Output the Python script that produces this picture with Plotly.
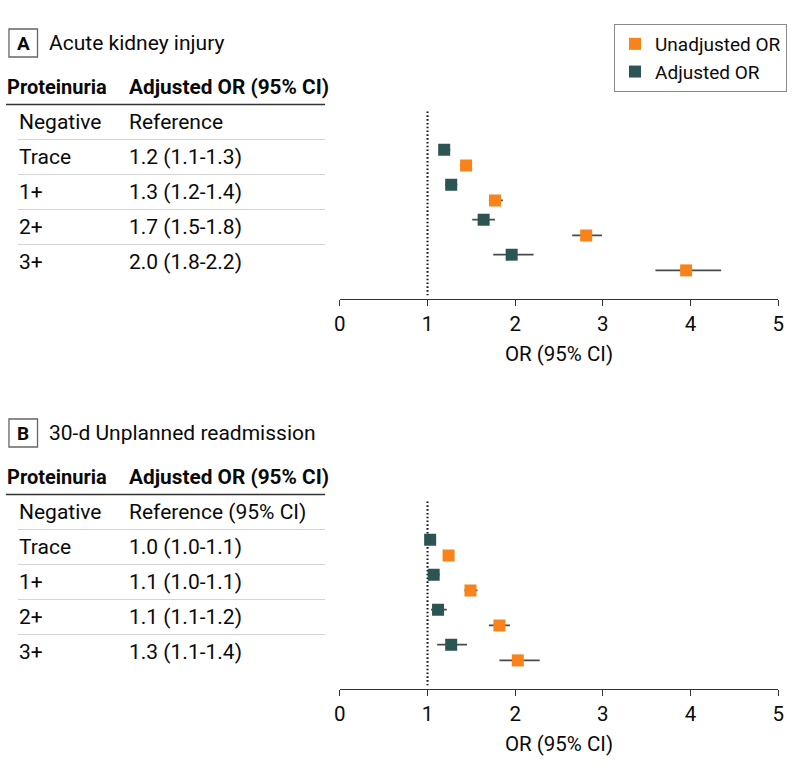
import plotly.graph_objects as go

W, H = 794, 780

# ---------------- data ----------------
categories = ["Negative", "Trace", "1+", "2+", "3+"]
plotted = ["Trace", "1+", "2+", "3+"]
x_ticks = [0, 1, 2, 3, 4, 5]

aki_title = "Acute kidney injury"
aki_table = ["Reference", "1.2 (1.1-1.3)", "1.3 (1.2-1.4)", "1.7 (1.5-1.8)", "2.0 (1.8-2.2)"]
aki_adj = [1.19, 1.27, 1.64, 1.96]
aki_adj_lo = [1.13, 1.20, 1.51, 1.75]
aki_adj_hi = [1.26, 1.34, 1.77, 2.21]
aki_unadj = [1.44, 1.77, 2.81, 3.95]
aki_unadj_lo = [1.37, 1.70, 2.65, 3.60]
aki_unadj_hi = [1.50, 1.86, 2.99, 4.35]

readm_title = "30-d Unplanned readmission"
readm_table = ["Reference (95% CI)", "1.0 (1.0-1.1)", "1.1 (1.0-1.1)", "1.1 (1.1-1.2)", "1.3 (1.1-1.4)"]
readm_adj = [1.03, 1.07, 1.12, 1.27]
readm_adj_lo = [1.00, 1.00, 1.04, 1.11]
readm_adj_hi = [1.06, 1.14, 1.22, 1.45]
readm_unadj = [1.24, 1.49, 1.82, 2.03]
readm_unadj_lo = [1.20, 1.42, 1.70, 1.82]
readm_unadj_hi = [1.28, 1.57, 1.94, 2.28]

# ---------------- style / layout constants ----------------
FONT = "Roboto, 'Open Sans', sans-serif"
ORANGE = "#F9821A"
TEAL = "#2C5453"
ERR = "#4a4a4a"
TXT = "#0a0a0a"
ROW0 = 122       # pixel of first table row (panel A)
STEP = 35        # pixels per row
AXIS_PX = 299    # pixel of x axis line (panel A)
SHIFT = 390      # vertical pixel shift panel A -> panel B
ADJ_OFF = -0.21
UNADJ_OFF = 0.24
X_LEFT, X_RIGHT = 339, 784


def px(x):
    return x / W


def py(y):
    return 1 - y / H


Y_BOTTOM = (AXIS_PX - ROW0) / STEP
Y_TOP = -0.5

panels = [
    dict(letter="A", title=aki_title, table=aki_table, adj=aki_adj, adj_lo=aki_adj_lo, adj_hi=aki_adj_hi,
         un=aki_unadj, un_lo=aki_unadj_lo, un_hi=aki_unadj_hi, shift=0, ax=""),
    dict(letter="B", title=readm_title, table=readm_table, adj=readm_adj, adj_lo=readm_adj_lo, adj_hi=readm_adj_hi,
         un=readm_unadj, un_lo=readm_unadj_lo, un_hi=readm_unadj_hi, shift=SHIFT, ax="2"),
]

fig = go.Figure()
annotations = []
shapes = []


def row_py(r, shift):
    return py(ROW0 + shift + r * STEP)


def label(text, x, y, size=20.5, anchor="left"):
    return dict(text=text, x=x, y=y, xref="paper", yref="paper", xanchor=anchor, yanchor="middle",
                showarrow=False, borderpad=0, font=dict(size=size, color=TXT, family=FONT))


for i, p in enumerate(panels):
    xa = "x" + p["ax"]
    ya = "y" + p["ax"]
    ypos = [categories.index(c) for c in plotted]
    show = i == 0
    fig.add_trace(go.Scatter(
        x=p["un"], y=[v + UNADJ_OFF for v in ypos], xaxis=xa, yaxis=ya,
        mode="markers", name="Unadjusted OR", showlegend=show, legendgroup="u",
        marker=dict(symbol="square", size=12, color=ORANGE),
        error_x=dict(type="data", symmetric=False,
                     array=[h - v for h, v in zip(p["un_hi"], p["un"])],
                     arrayminus=[v - l for l, v in zip(p["un_lo"], p["un"])],
                     width=0, thickness=1.6, color=ERR),
        hoverinfo="skip",
    ))
    fig.add_trace(go.Scatter(
        x=p["adj"], y=[v + ADJ_OFF for v in ypos], xaxis=xa, yaxis=ya,
        mode="markers", name="Adjusted OR", showlegend=show, legendgroup="a",
        marker=dict(symbol="square", size=12, color=TEAL),
        error_x=dict(type="data", symmetric=False,
                     array=[h - v for h, v in zip(p["adj_hi"], p["adj"])],
                     arrayminus=[v - l for l, v in zip(p["adj_lo"], p["adj"])],
                     width=0, thickness=1.6, color=ERR),
        hoverinfo="skip",
    ))

    s = p["shift"]
    # panel letter box and title
    shapes.append(dict(type="rect", xref="paper", yref="paper",
                       x0=px(3), x1=px(32), y0=py(29 + s), y1=py(57 + s),
                       line=dict(color="#666666", width=1.3)))
    annotations.append(label("<b>%s</b>" % p["letter"], px(17.5), py(43 + s), size=19, anchor="center"))
    annotations.append(label(p["title"], px(43), py(43 + s), size=21))
    # table header
    annotations.append(label("<b>Proteinuria</b>", px(0), row_py(-1, s), size=20))
    annotations.append(label("<b>Adjusted OR (95% CI)</b>", px(124), row_py(-1, s), size=20.8))
    shapes.append(dict(type="line", xref="paper", yref="paper", x0=px(0), x1=px(324),
                       y0=row_py(-0.5, s), y1=row_py(-0.5, s), line=dict(color="#333333", width=1.6)))
    for r, (cat, val) in enumerate(zip(categories, p["table"])):
        annotations.append(label(cat, px(12), row_py(r, s), size=21))
        annotations.append(label(val, px(124), row_py(r, s), size=21))
        if r < len(categories) - 1:
            shapes.append(dict(type="line", xref="paper", yref="paper", x0=px(12), x1=px(324),
                               y0=row_py(r + 0.5, s), y1=row_py(r + 0.5, s),
                               line=dict(color="#d4d4d4", width=1.2)))
    # reference line at OR = 1
    shapes.append(dict(type="line", xref=xa, yref=ya, x0=1, x1=1, y0=-0.3, y1=4.95,
                       line=dict(color="#111111", width=2, dash="1.6px,2.2px"), layer="below"))

axis_common = dict(range=[0, 5], tickvals=x_ticks, ticks="outside", ticklen=6, tickwidth=1,
                   tickcolor="#333333", showline=True, linecolor="#333333", linewidth=1,
                   showgrid=False, zeroline=False,
                   tickfont=dict(size=20.5, color=TXT, family=FONT),
                   title=dict(text="OR (95% CI)", font=dict(size=20.5, color=TXT, family=FONT), standoff=12),
                   domain=[px(X_LEFT), px(X_RIGHT)], fixedrange=True)

yA_dom = [py(AXIS_PX), py(ROW0 + Y_TOP * STEP)]
yB_dom = [py(AXIS_PX + SHIFT), py(ROW0 + SHIFT + Y_TOP * STEP)]

fig.update_layout(
    width=W, height=H,
    margin=dict(l=0, r=0, t=0, b=0),
    paper_bgcolor="white", plot_bgcolor="white",
    font=dict(family=FONT, color=TXT),
    xaxis=dict(axis_common, anchor="y"),
    xaxis2=dict(axis_common, anchor="y2"),
    yaxis=dict(domain=yA_dom, range=[Y_BOTTOM, Y_TOP], visible=False, anchor="x", fixedrange=True),
    yaxis2=dict(domain=yB_dom, range=[Y_BOTTOM, Y_TOP], visible=False, anchor="x2", fixedrange=True),
    legend=dict(x=px(793), xanchor="right", y=py(24), yanchor="top",
                bordercolor="#8a8a8a", borderwidth=1, bgcolor="white",
                font=dict(size=19, color=TXT, family=FONT), itemwidth=30,
                traceorder="normal", tracegroupgap=0),
    annotations=annotations,
    shapes=shapes,
    showlegend=True,
)

fig.write_html("out.html", config={"displayModeBar": False},
               post_script="document.body.style.margin='0';document.body.style.padding='0';")
